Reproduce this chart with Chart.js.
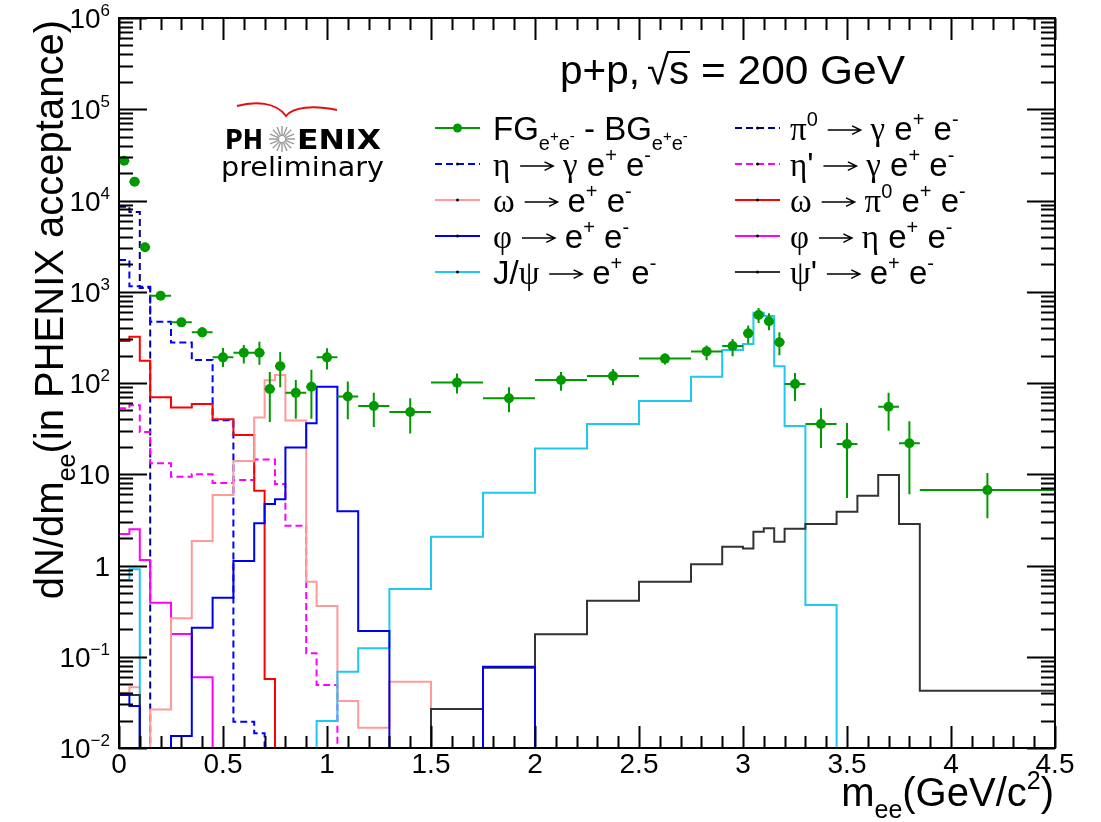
<!DOCTYPE html>
<html>
<head>
<meta charset="utf-8">
<title>p+p dielectron invariant mass</title>
<script src="https://cdn.jsdelivr.net/npm/chart.js@4.4.1/dist/chart.umd.min.js"></script>
<style>
  html, body { margin: 0; padding: 0; background: #fff; }
  canvas { display: block; }
</style>
</head>
<body>
<canvas id="massChart" width="1101" height="822" style="width:1101px;height:822px"></canvas>
<script>
// bin edges shared by the data and the cocktail histograms (GeV/c^2)
const massEdges = [0, 0.05, 0.1, 0.15, 0.25, 0.35, 0.45, 0.55, 0.65, 0.7, 0.75, 0.8, 0.9, 0.95,
  1.05, 1.15, 1.3, 1.5, 1.75, 2.0, 2.25, 2.5, 2.75, 2.9, 3.0, 3.05, 3.1, 3.15, 3.2, 3.3, 3.45,
  3.55, 3.65, 3.75, 3.85, 4.5];

// FG - BG pairs: bin centre, half width, yield and the ends of the stat. error bar
const dataMass = [0.025, 0.075, 0.125, 0.2, 0.3, 0.4, 0.5, 0.6, 0.675, 0.725, 0.775, 0.85, 0.925,
  1.0, 1.1, 1.225, 1.4, 1.625, 1.875, 2.125, 2.375, 2.625, 2.825, 2.95, 3.025, 3.075, 3.125,
  3.175, 3.25, 3.375, 3.5, 3.7, 3.8, 4.175];
const dataMassErr = [0.025, 0.025, 0.025, 0.05, 0.05, 0.05, 0.05, 0.05, 0.025, 0.025, 0.025, 0.05,
  0.025, 0.05, 0.05, 0.075, 0.1, 0.125, 0.125, 0.125, 0.125, 0.125, 0.075, 0.05, 0.025, 0.025,
  0.025, 0.025, 0.05, 0.075, 0.05, 0.05, 0.05, 0.325];
const dataYield = [27300, 16100, 3070, 905, 462, 359, 191, 215, 215, 86, 153, 78, 91, 191, 71, 56,
  48, 101, 68, 108, 119, 185, 222, 254, 350, 556, 474, 279, 97.5, 35.5, 21.5, 55, 21.9, 6.7];
const dataYieldLow = [26000, 15300, 2900, 860, 418, 317, 150, 164, 158, 37.4, 90, 40.5, 40.6, 141,
  40, 33, 28, 76.5, 47.7, 82, 95, 159, 177, 197, 272, 454, 378, 201, 63.5, 19.4, 5.5, 30, 6.05, 3.3];
const dataYieldHigh = [28600, 16900, 3250, 950, 511, 407, 242, 261, 284, 132, 218, 108, 140, 240,
  104, 78, 68, 127, 90, 132, 142, 210, 258, 303, 428, 663, 580, 359, 129, 53, 36.5, 78, 38, 10.3];

// cocktail sources, one entry per bin; bins after the last entry are empty
const pi0Dalitz = [8550, 7500, 1100];
const etaDalitz = [2230, 1150, 1135, 470, 277, 179, 39, 0.0194, 0.0145];
const etaPrimeDalitz = [52.8, 57, 29, 13.2, 9.4, 10.0, 8.0, 8.65, 14.5, 14.5, 7.8, 2.73, 0.109, 0.049];
const omegaEE = [0.0404, 0.0462, 0, 0.0265, 0.264, 1.85, 5.93, 14.0, 41.9, 107, 122, 38.8, 0.664,
  0.36, 0.0327, 0.0167, 0.0533];
const omegaDalitz = [289, 321, 175, 69.7, 54, 59, 40, 27, 6.6, 0.057];
const phiEE = [0.0381, 0.0288, 0, 0, 0.0135, 0.208, 0.444, 1.12, 2.9, 4.72, 5.33, 19.7, 36.2, 91,
  3.93, 0.191, 0, 0, 0.0778];
const phiDalitz = [2.21, 2.49, 1.15, 0.391, 0.177, 0.0596];
const jpsiEE = [0.693, 0.908, 0, 0, 0, 0, 0, 0, 0, 0, 0, 0, 0, 0.0198, 0.0686, 0.124, 0.552, 2.07,
  6.27, 19.2, 35.6, 63.5, 117, 230, 267, 590, 542, 153, 33.8, 0.369];
const psiPrimeEE = [0.038, 0.038, 0, 0, 0, 0, 0, 0, 0, 0, 0, 0, 0, 0, 0, 0, 0, 0.0267, 0.0759, 0.176,
  0.411, 0.664, 1.03, 1.61, 1.54, 2.35, 2.56, 1.82, 2.53, 2.85, 3.89, 5.82, 9.8, 2.85, 0.0425];

const xTickValues = [0, 0.5, 1, 1.5, 2, 2.5, 3, 3.5, 4, 4.5];
const xTickLabels = ['0', '0.5', '1', '1.5', '2', '2.5', '3', '3.5', '4', '4.5'];
const yTickValues = [1e-2, 1e-1, 1, 10, 1e2, 1e3, 1e4, 1e5, 1e6];
const yTickLabels = ['10^\u22122', '10^\u22121', '1', '10', '10^2', '10^3', '10^4', '10^5', '10^6'];

const X_MIN = 0, X_MAX = 4.5, Y_MIN = 0.01, Y_MAX = 1e6;
const DATA_GREEN = '#009a00';

const SANS = '"Liberation Sans", Arial, Helvetica, sans-serif';
const SERIF = '"Liberation Serif", "DejaVu Serif", serif';
const LOGO_FONT = '"DejaVu Sans", "Liberation Sans", sans-serif';

// [size factor, baseline shift in em, family]
const STYLES = {
  n: [1, 0, SANS],
  g: [1, 0, SERIF],
  sup: [0.62, -0.42, SANS],
  sub: [0.62, 0.3, SANS],
  subsup: [0.45, 0.04, SANS]
};
const N = t => [t, 'n'], G = t => [t, 'g'], UP = t => [t, 'sup'], DN = t => [t, 'sub'], DNUP = t => [t, 'subsup'];
const ARROW = ['', 'arrow'];
const ARROW_W = 1.6;   // em, including the gaps on both sides
const TO_EE = [N('e'), UP('+'), N(' e'), UP('-')];
const GAMMA_EE = [G('\u03b3'), N(' e'), UP('+'), N(' e'), UP('-')];

// cocktail drawing style and legend slot
const components = [
  { values: phiEE, color: '#0000f0', dash: [], col: 0, row: 3,
    label: [G('\u03c6'), ARROW, ...TO_EE] },
  { values: psiPrimeEE, color: '#333333', dash: [], col: 1, row: 4,
    label: [G('\u03c8'), N("'"), ARROW, ...TO_EE] },
  { values: jpsiEE, color: '#1ec8f0', dash: [], col: 0, row: 4,
    label: [N('J/'), G('\u03c8'), ARROW, ...TO_EE] },
  { values: omegaEE, color: '#ff9a9a', dash: [], col: 0, row: 2,
    label: [G('\u03c9'), ARROW, ...TO_EE] },
  { values: omegaDalitz, color: '#ff0000', dash: [], col: 1, row: 2,
    label: [G('\u03c9'), ARROW, G('\u03c0'), UP('0'), N(' e'), UP('+'), N(' e'), UP('-')] },
  { values: phiDalitz, color: '#ff00ff', dash: [], col: 1, row: 3,
    label: [G('\u03c6'), ARROW, G('\u03b7'), N(' e'), UP('+'), N(' e'), UP('-')] },
  { values: etaPrimeDalitz, color: '#ff00ff', dash: [7, 4], col: 1, row: 1,
    label: [G('\u03b7'), N("'"), ARROW, ...GAMMA_EE] },
  { values: etaDalitz, color: '#0000ff', dash: [7, 4], col: 0, row: 1,
    label: [G('\u03b7'), ARROW, ...GAMMA_EE] },
  { values: pi0Dalitz, color: '#000090', dash: [7, 4], col: 1, row: 0,
    label: [G('\u03c0'), UP('0'), ARROW, ...GAMMA_EE] }
];
const dataLabel = [N('FG'), DN('e'), DNUP('+'), DN('e'), DNUP('-'), N(' - BG'), DN('e'), DNUP('+'), DN('e'), DNUP('-')];

// histogram outline: left edge of every bin, then drop to the floor after the last bin
function histPoints(vals) {
  const pts = vals.map((v, i) => ({ x: massEdges[i], y: Math.max(v, Y_MIN) }));
  const end = massEdges[vals.length];
  pts.push({ x: end, y: Math.max(vals[vals.length - 1], Y_MIN) });
  pts.push({ x: end, y: Y_MIN });
  return pts;
}

function partWidth(ctx, t, k, size) {
  if (k === 'arrow') return ARROW_W * size;
  const [s, , f] = STYLES[k];
  ctx.font = `${Math.round(size * s)}px ${f}`;
  return ctx.measureText(t).width;
}

function richWidth(ctx, parts, size) {
  return parts.reduce((w, [t, k]) => w + partWidth(ctx, t, k, size), 0);
}

function drawArrow(ctx, x, y, size) {
  const x0 = x + 0.3 * size, x1 = x + (ARROW_W - 0.3) * size, ay = y - 0.3 * size;
  ctx.save();
  ctx.strokeStyle = ctx.fillStyle;
  ctx.lineWidth = Math.max(1.4, size / 22);
  ctx.beginPath();
  ctx.moveTo(x0, ay); ctx.lineTo(x1, ay);
  ctx.moveTo(x1 - 0.26 * size, ay - 0.13 * size); ctx.lineTo(x1, ay); ctx.lineTo(x1 - 0.26 * size, ay + 0.13 * size);
  ctx.stroke();
  ctx.restore();
}

function drawRich(ctx, x, y, parts, size, align) {
  if (align === 'right') x -= richWidth(ctx, parts, size);
  ctx.textAlign = 'left';
  ctx.textBaseline = 'alphabetic';
  for (const [t, k] of parts) {
    if (k === 'arrow') {
      drawArrow(ctx, x, y, size);
      x += ARROW_W * size;
      continue;
    }
    const [s, dy, f] = STYLES[k];
    ctx.font = `${Math.round(size * s)}px ${f}`;
    ctx.fillText(t, x, y + dy * size);
    x += ctx.measureText(t).width;
  }
  return x;
}

function drawErrorBars(chart) {
  const ctx = chart.ctx, xs = chart.scales.x, ys = chart.scales.y, a = chart.chartArea;
  ctx.save();
  ctx.beginPath();
  ctx.rect(a.left, a.top, a.right - a.left, a.bottom - a.top);
  ctx.clip();
  ctx.strokeStyle = DATA_GREEN;
  ctx.lineWidth = 2;
  ctx.beginPath();
  dataMass.forEach((m, i) => {
    const px = xs.getPixelForValue(m);
    const py = ys.getPixelForValue(dataYield[i]);
    ctx.moveTo(xs.getPixelForValue(m - dataMassErr[i]), py);
    ctx.lineTo(xs.getPixelForValue(m + dataMassErr[i]), py);
    ctx.moveTo(px, ys.getPixelForValue(dataYieldLow[i]));
    ctx.lineTo(px, ys.getPixelForValue(dataYieldHigh[i]));
  });
  ctx.stroke();
  ctx.restore();
}

function drawAxes(chart) {
  const ctx = chart.ctx, xs = chart.scales.x, ys = chart.scales.y;
  const { left, right, top, bottom } = chart.chartArea;
  ctx.save();
  ctx.strokeStyle = '#000';
  ctx.lineWidth = 2;
  ctx.strokeRect(left, top, right - left, bottom - top);

  // x ticks every 0.1, long ones at the labelled values
  ctx.beginPath();
  for (let k = 0; k <= 45; k++) {
    const px = Math.round(xs.getPixelForValue(k / 10)) + 0.5;
    const len = k % 5 === 0 ? 22 : 12;
    ctx.moveTo(px, bottom); ctx.lineTo(px, bottom - len);
    ctx.moveTo(px, top); ctx.lineTo(px, top + len);
  }
  // y ticks: decades long, 2..9 short
  for (let e = -2; e <= 6; e++) {
    for (let m = 1; m <= 9; m++) {
      if (e === 6 && m > 1) break;
      const py = Math.round(ys.getPixelForValue(m * Math.pow(10, e))) + 0.5;
      const len = m === 1 ? 28 : 14;
      ctx.moveTo(left, py); ctx.lineTo(left + len, py);
      ctx.moveTo(right, py); ctx.lineTo(right - len, py);
    }
  }
  ctx.stroke();

  ctx.fillStyle = '#000';
  ctx.font = `28px ${SANS}`;
  ctx.textAlign = 'center';
  ctx.textBaseline = 'alphabetic';
  xTickValues.forEach((v, i) => ctx.fillText(xTickLabels[i], xs.getPixelForValue(v), 773));

  yTickValues.forEach((v, i) => {
    const [base, exp] = yTickLabels[i].split('^');
    const parts = exp ? [N(base), UP(exp)] : [N(base)];
    drawRich(ctx, 110, ys.getPixelForValue(v) + 10, parts, 28, 'right');
  });

  // axis titles
  drawRich(ctx, 1054, 806, [N('m'), DN('ee'), N('(GeV/c'), UP('2'), N(')')], 40, 'right');
  ctx.save();
  ctx.translate(63, 20);
  ctx.rotate(-Math.PI / 2);
  drawRich(ctx, 0, 0, [N('dN/dm'), DN('ee'), N('(in PHENIX acceptance)')], 40, 'right');
  ctx.restore();
  ctx.restore();
}

function fitText(ctx, text, x, y, width) {
  const w = ctx.measureText(text).width;
  ctx.save();
  ctx.translate(x, y);
  ctx.scale(width / w, 1);
  ctx.fillText(text, 0, 0);
  ctx.restore();
}

function drawLegend(chart) {
  const ctx = chart.ctx;
  const colX = [435, 735], textX = [493, 790], rowY = [128, 164, 200, 236, 272];
  const size = 33;
  ctx.save();
  ctx.lineWidth = 2;
  const entry = (col, row, color, dash, label, isData) => {
    const y = rowY[row];
    ctx.strokeStyle = color;
    ctx.setLineDash(dash);
    ctx.beginPath();
    ctx.moveTo(colX[col], y); ctx.lineTo(colX[col] + 45, y);
    ctx.stroke();
    ctx.setLineDash([]);
    ctx.fillStyle = isData ? DATA_GREEN : '#000';
    ctx.beginPath();
    ctx.arc(colX[col] + 22.5, y, isData ? 4.5 : 1.5, 0, Math.PI * 2);
    ctx.fill();
    ctx.fillStyle = '#000';
    drawRich(ctx, textX[col], y + 12, label, size);
  };
  entry(0, 0, DATA_GREEN, [], dataLabel, true);
  components.forEach(c => entry(c.col, c.row, c.color, c.dash, c.label, false));

  // collision system
  ctx.fillStyle = '#000';
  ctx.font = `40px ${SANS}`;
  ctx.textAlign = 'left';
  ctx.textBaseline = 'alphabetic';
  fitText(ctx, 'p+p,', 560, 84, 80);
  ctx.fillText('\u221a', 647, 84);
  const sx = 647 + ctx.measureText('\u221a').width;
  ctx.fillText('s', sx, 84);
  const sw = ctx.measureText('s').width;
  ctx.lineWidth = 2;
  ctx.strokeStyle = '#000';
  ctx.beginPath();
  ctx.moveTo(sx - 2, 52); ctx.lineTo(sx + sw + 1, 52);
  ctx.stroke();
  fitText(ctx, '= 200 GeV', 701, 84, 204);
  ctx.restore();
}

function drawLogo(chart) {
  const ctx = chart.ctx;
  ctx.save();
  // red gull wing over the name
  ctx.strokeStyle = '#e01010';
  ctx.lineWidth = 2;
  ctx.beginPath();
  ctx.moveTo(237, 106);
  ctx.bezierCurveTo(255, 101, 276, 102, 286, 116);
  ctx.bezierCurveTo(293, 107, 313, 105, 337, 110);
  ctx.stroke();

  ctx.fillStyle = '#000';
  ctx.textAlign = 'left';
  ctx.textBaseline = 'alphabetic';
  ctx.font = `bold 27px ${LOGO_FONT}`;
  fitText(ctx, 'PH', 225, 149, 38);
  fitText(ctx, 'ENIX', 297, 149, 84);

  // starburst in place of the O
  ctx.strokeStyle = '#9a9a9a';
  ctx.lineWidth = 1.4;
  ctx.beginPath();
  for (let k = 0; k < 16; k++) {
    const a = k * Math.PI / 8;
    ctx.moveTo(282 + 3 * Math.cos(a), 139 + 3 * Math.sin(a));
    ctx.lineTo(282 + 13 * Math.cos(a), 139 + 13 * Math.sin(a));
  }
  ctx.stroke();

  ctx.font = `26px ${LOGO_FONT}`;
  fitText(ctx, 'preliminary', 221, 176, 163);
  ctx.restore();
}

const decor = {
  id: 'phenixDecor',
  afterDatasetsDraw(chart) { drawErrorBars(chart); },
  afterDraw(chart) {
    drawAxes(chart);
    drawLegend(chart);
    drawLogo(chart);
  }
};

const datasets = [{
  data: dataMass.map((m, i) => ({ x: m, y: dataYield[i] })),
  showLine: false,
  pointRadius: 5,
  pointHoverRadius: 5,
  pointBackgroundColor: DATA_GREEN,
  pointBorderColor: DATA_GREEN,
  pointBorderWidth: 0
}];
components.forEach(c => datasets.push({
  data: histPoints(c.values),
  stepped: true,
  borderColor: c.color,
  borderWidth: 2,
  borderDash: c.dash,
  pointRadius: 0,
  fill: false
}));

new Chart(document.getElementById('massChart'), {
  type: 'line',
  data: { datasets },
  options: {
    responsive: false,
    animation: false,
    devicePixelRatio: 1,
    layout: { padding: { left: 119, right: 46, top: 18, bottom: 74 } },
    scales: {
      x: { type: 'linear', min: X_MIN, max: X_MAX, display: false },
      y: { type: 'logarithmic', min: Y_MIN, max: Y_MAX, display: false }
    },
    plugins: { legend: { display: false }, tooltip: { enabled: false } }
  },
  plugins: [decor]
});
</script>
</body>
</html>
